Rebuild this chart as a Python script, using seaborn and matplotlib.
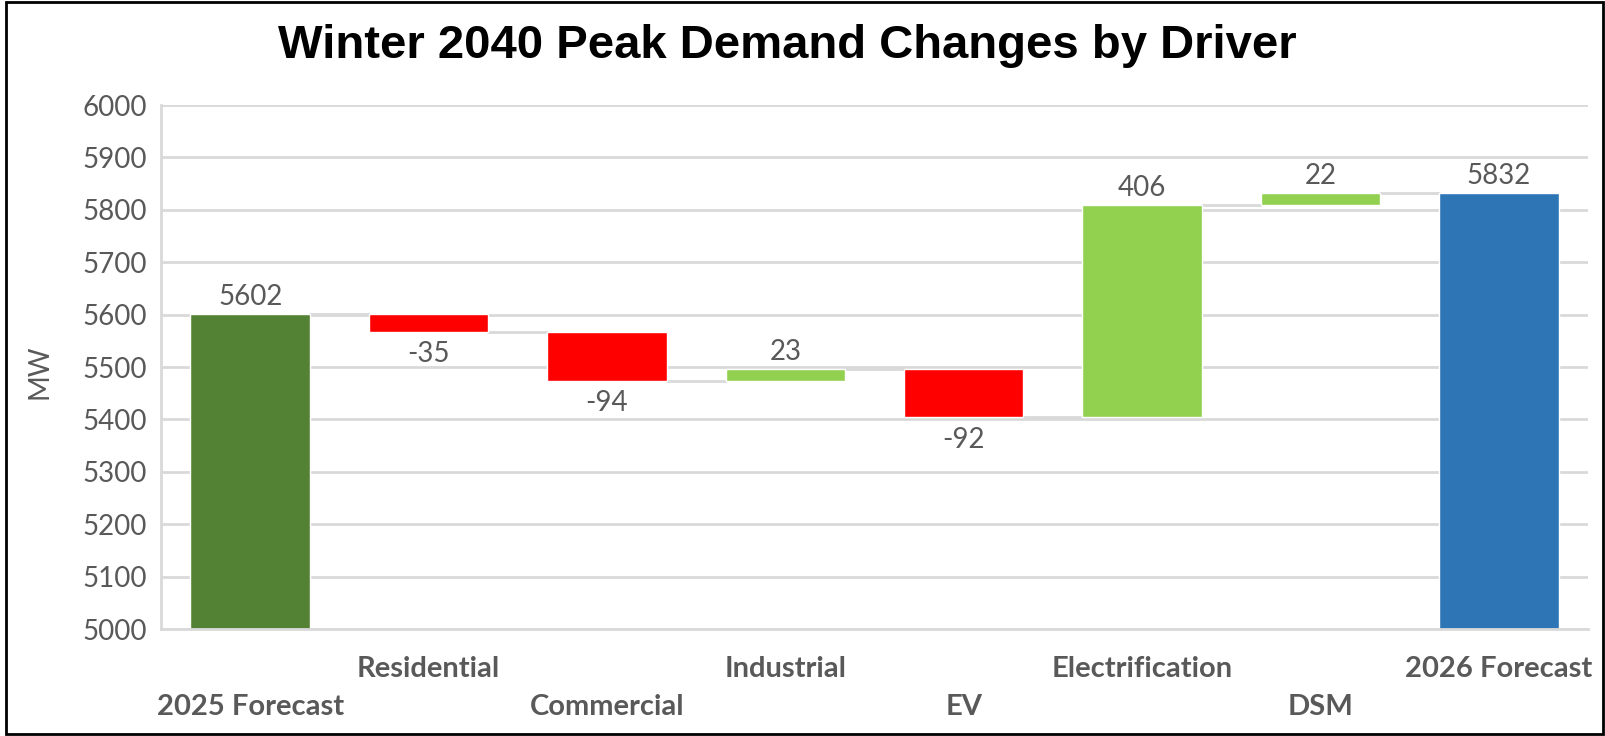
import numpy as np
import matplotlib
matplotlib.use("Agg")
import matplotlib.pyplot as plt
import seaborn as sns
from matplotlib.patches import Rectangle

# ---- data ----
categories = ["2025 Forecast", "Residential", "Commercial", "Industrial",
              "EV", "Electrification", "DSM", "2026 Forecast"]
changes = [5602, -35, -94, 23, -92, 406, 22]   # start value + deltas
total = 5832
y_min, y_max, y_step = 5000, 6000, 100

# ---- waterfall geometry ----
levels = np.cumsum(changes)                     # running level after each step
starts = np.concatenate([[y_min], levels[:-1]])  # where each step begins
bottoms, tops, colors = [], [], []
for i, (s, e) in enumerate(zip(starts, levels)):
    if i == 0:
        bottoms.append(y_min); tops.append(e); colors.append("#548235")
    elif e >= s:
        bottoms.append(s); tops.append(e); colors.append("#92D050")
    else:
        bottoms.append(e); tops.append(s); colors.append("#FF0000")
bottoms.append(y_min); tops.append(total); colors.append("#2E75B6")
bottoms, tops = np.array(bottoms), np.array(tops)
label_vals = changes + [total]

sns.set_theme(style="whitegrid")
plt.rcParams["font.family"] = ["Lato", "DejaVu Sans"]
grey = "#595959"

fig = plt.figure(figsize=(16.06, 7.36), dpi=100)
ax = fig.add_axes([161 / 1606, 1 - 629 / 736, (1588 - 161) / 1606, (629 - 105) / 736])

x = np.arange(len(categories))
bw = 0.67
ax.bar(x, tops - bottoms, bottom=bottoms, width=bw, color=colors, zorder=2)

# connectors
ends = list(levels) + [total]
for i in range(len(categories) - 1):
    ax.plot([x[i] + bw / 2, x[i + 1] - bw / 2], [ends[i], ends[i]],
            color="#D9D9D9", lw=2, zorder=1)

# value labels
for i, v in enumerate(label_vals):
    if v >= 0:
        ax.annotate(f"{v}", (x[i], tops[i]), xytext=(0, 12), textcoords="offset points",
                    ha="center", va="center", fontsize=20, color=grey)
    else:
        ax.annotate(f"{v}", (x[i], bottoms[i]), xytext=(0, -16), textcoords="offset points",
                    ha="center", va="center", fontsize=20, color=grey)

ax.set_xlim(-0.5, len(categories) - 0.5)
ax.set_ylim(y_min, y_max)
ax.set_yticks(np.arange(y_min, y_max + 1, y_step))
ax.tick_params(axis="y", labelsize=20, labelcolor=grey, length=0, pad=10)
ax.set_xticks(x)
ax.set_xticklabels([])
ax.tick_params(axis="x", length=0)
ax.grid(axis="y", color="#D9D9D9", lw=2)
ax.grid(axis="x", visible=False)
for sp in ["top", "right"]:
    ax.spines[sp].set_visible(False)
for sp in ["left", "bottom"]:
    ax.spines[sp].set_color("#D9D9D9")
    ax.spines[sp].set_linewidth(2)
ax.spines["bottom"].set_zorder(3)
ax.set_facecolor("white")

# staggered category labels
for i, c in enumerate(categories):
    off = -29 if i % 2 == 1 else -56
    ax.annotate(c, (x[i], y_min), xytext=(0, off), textcoords="offset points",
                ha="center", va="center", fontsize=21, fontweight="bold", color=grey,
                annotation_clip=False)

fig.text(40 / 1606, 1 - 372 / 736, "MW", rotation=90, ha="center", va="center",
         fontsize=20, color=grey)
fig.text(787 / 1606, 1 - 46 / 736, "Winter 2040 Peak Demand Changes by Driver",
         ha="center", va="center", fontsize=34, fontweight="bold", color="black",
         family=["Liberation Sans", "DejaVu Sans"])

fig.patches.append(Rectangle((0.004, 0.003), 0.994, 0.994, transform=fig.transFigure,
                             fill=False, edgecolor="black", lw=2))

fig.savefig("out.png", dpi=100, facecolor="white")
